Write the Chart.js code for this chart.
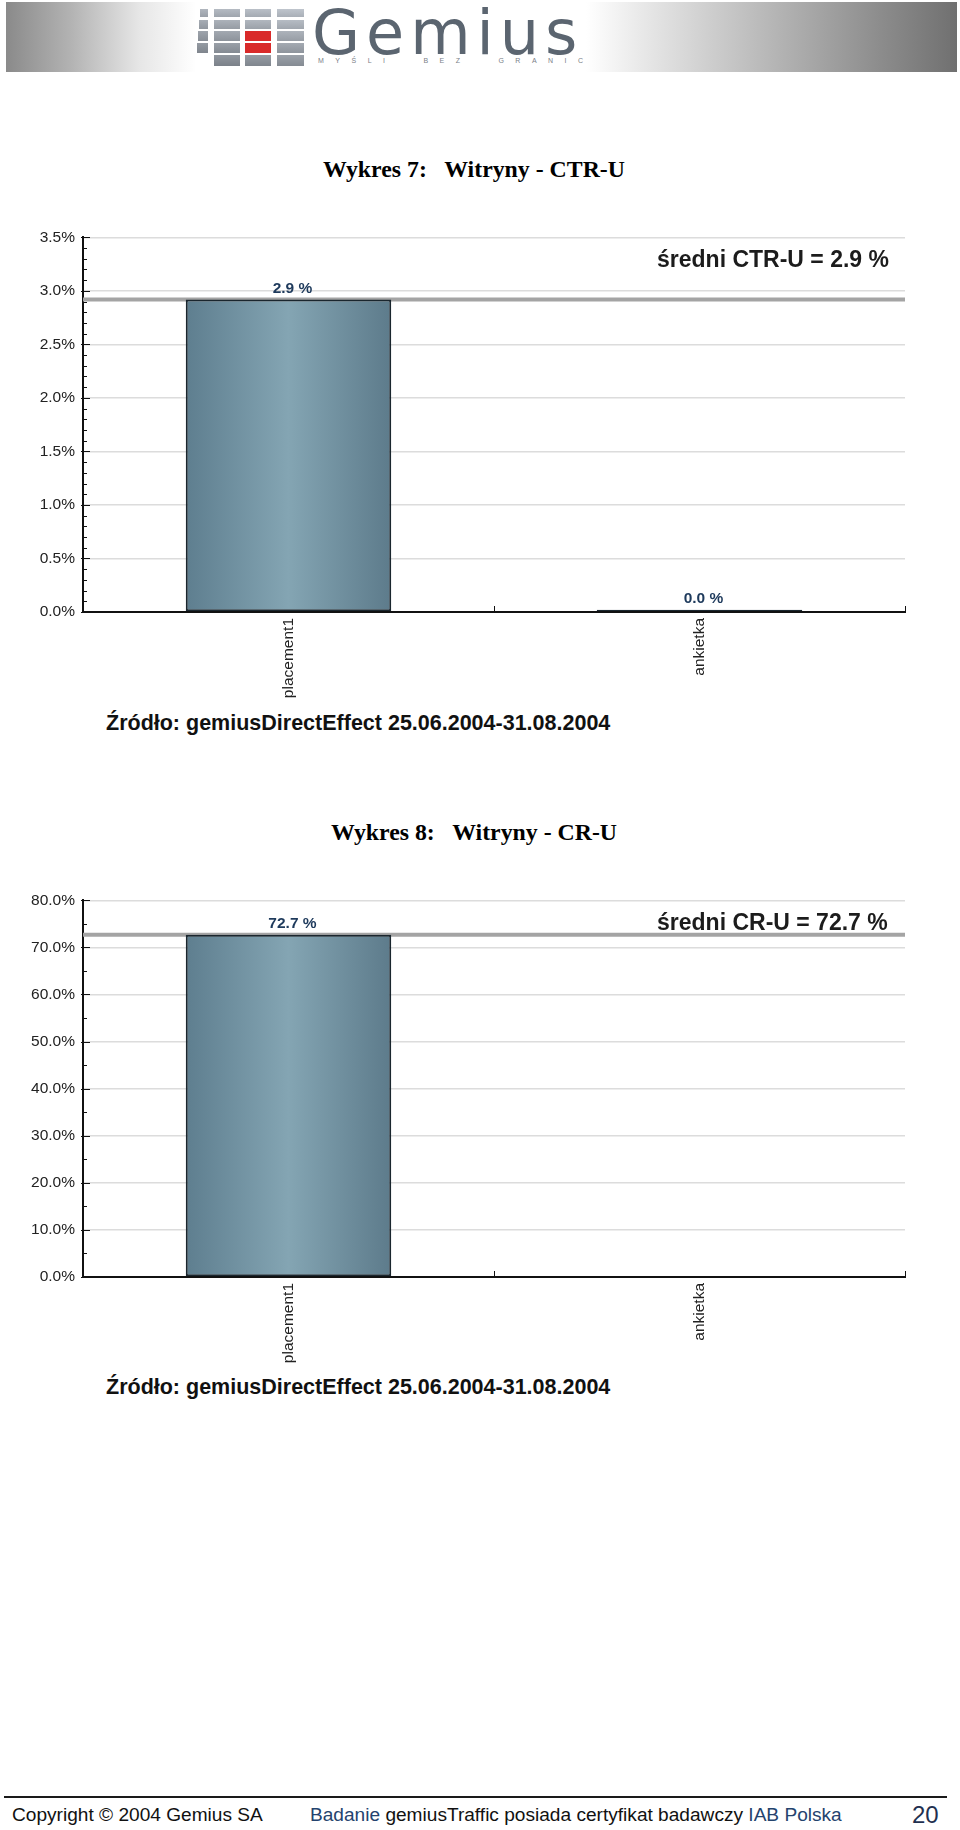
<!DOCTYPE html>
<html>
<head>
<meta charset="utf-8">
<script src="https://cdn.jsdelivr.net/npm/chart.js@4/dist/chart.umd.min.js"></script>
<style>
  html, body { margin:0; padding:0; background:#fff; }
  body { width:960px; height:1830px; position:relative; overflow:hidden; font-family:"Liberation Sans", Arial, sans-serif; }
  .abs { position:absolute; white-space:pre; }
  .banner { left:6px; top:2px; width:951px; height:70px;
    background:linear-gradient(to right,#8a8a8a 0%,#b4b4b4 7%,#e6e6e6 14%,#ffffff 20%,#ffffff 61%,#e4e4e4 68%,#b8b8b8 80%,#8c8c8c 92%,#707070 100%); }
  .sq { position:absolute; background:#a9b0b9; }
  .title { left:0; width:948px; text-align:center; font-family:"Liberation Serif","Times New Roman",serif; font-weight:bold; font-size:23.8px; color:#000; height:30px; line-height:30px; }
  .source { left:106px; font-weight:bold; font-size:21.5px; color:#111; height:26px; line-height:26px; }
  .avg { left:657px; font-weight:bold; font-size:23px; color:#1c1c1c; height:28px; line-height:28px; }
  .foot { font-size:19.1px; color:#111; height:24px; line-height:24px; top:1803px; }
  .blue { color:#24436e; }
  .chartbox { position:absolute; left:0; width:960px; }
</style>
</head>
<body>
<div class="abs banner"></div>
<div id="logo"></div>
<div class="abs" style="left:312px;top:-2px;font-family:'DejaVu Sans',sans-serif;font-weight:normal;font-size:62px;line-height:70px;letter-spacing:6px;color:#5b6570;">Gemius</div>
<div class="abs" style="left:318px;top:56px;font-size:7px;line-height:10px;letter-spacing:11.5px;color:#7a8088;">MYŚLI  BEZ  GRANIC</div>

<div class="abs title" style="top:154px;">Wykres 7:   Witryny - CTR-U</div>
<div class="chartbox" style="top:220px;height:490px;"><canvas id="c1" width="960" height="490"></canvas></div>
<div class="abs avg" style="top:245px;">średni CTR-U = 2.9 %</div>
<div class="abs source" style="top:710px;">Źródło: gemiusDirectEffect 25.06.2004-31.08.2004</div>

<div class="abs title" style="top:817px;">Wykres 8:   Witryny - CR-U</div>
<div class="chartbox" style="top:883px;height:490px;"><canvas id="c2" width="960" height="490"></canvas></div>
<div class="abs avg" style="top:908px;">średni CR-U = 72.7 %</div>
<div class="abs source" style="top:1374px;">Źródło: gemiusDirectEffect 25.06.2004-31.08.2004</div>

<div class="abs" style="left:4px;top:1796px;width:943px;height:2px;background:#1a1a1a;"></div>
<div class="abs foot" style="left:12px;">Copyright © 2004 Gemius SA</div>
<div class="abs foot" style="left:310px;"><span class="blue">Badanie</span> gemiusTraffic posiada certyfikat badawczy <span class="blue">IAB Polska</span></div>
<div class="abs" style="left:912px;top:1801px;font-size:24px;line-height:28px;color:#1f3050;">20</div>

<script>
// ---- data ----
const categories = ['placement1', 'ankietka'];
const ctrValues = [2.92, 0.02];
const crValues = [72.7, null];
const ctrAverage = 2.92;
const crAverage = 72.7;
const ctrTickLabels = ['0.0%','0.5%','1.0%','1.5%','2.0%','2.5%','3.0%','3.5%'];
const crTickLabels = ['0.0%','10.0%','20.0%','30.0%','40.0%','50.0%','60.0%','70.0%','80.0%'];

// ---- logo squares ----
(function(){
  const logo = document.getElementById('logo');
  const cols = [[196,10],[214,26],[245,26],[277,27]];
  const rows = [[9,8],[20,9],[31,10],[43,10],[55,11]];
  cols.forEach((c,ci)=>rows.forEach((r,ri)=>{
    if (ci===0 && ri===4) return;
    const d = document.createElement('div');
    d.className='sq';
    let w = c[1], x = c[0];
    if (ci===0) { w = 8 + ri; x = c[0] + 4 - ri; }
    d.style.left = x+'px'; d.style.top = r[0]+'px'; d.style.width = w+'px'; d.style.height = r[1]+'px';
    const shade = 176 + ci*5 - ri*9;
    d.style.background = `linear-gradient(to bottom, rgb(${shade},${shade+6},${shade+14}), rgb(${shade-22},${shade-16},${shade-8}))`;
    if (ci===2 && (ri===2 || ri===3)) d.style.background = '#d92a2a';
    logo.appendChild(d);
  }));
})();

const FONT = '"Liberation Sans", Arial, sans-serif';

const decor = {
  id: 'decor',
  beforeDatasetsDraw(chart, args, opts) {
    const {ctx, chartArea:a, scales:{y}} = chart;
    const yy = y.getPixelForValue(opts.average);
    ctx.save();
    ctx.strokeStyle = '#a4a4a4';
    ctx.lineWidth = 4;
    ctx.beginPath(); ctx.moveTo(a.left, yy); ctx.lineTo(a.right, yy); ctx.stroke();
    ctx.restore();
  },
  afterDatasetsDraw(chart, args, opts) {
    const {ctx, chartArea:a, scales:{x,y}} = chart;
    ctx.save();
    ctx.strokeStyle = '#111';
    ctx.lineWidth = 1;
    const n = Math.round((opts.max - opts.min) / opts.minor);
    const per = Math.round(opts.step / opts.minor);
    for (let i = 0; i <= n; i++) {
      const v = opts.min + i * opts.minor;
      const py = Math.round(y.getPixelForValue(v)) + 0.5;
      const len = (i % per === 0) ? 7 : 4;
      ctx.beginPath(); ctx.moveTo(a.left - (i % per === 0 ? 2 : 0), py); ctx.lineTo(a.left + len, py); ctx.stroke();
    }
    for (let i = 0; i < categories.length; i++) {
      const px = Math.round(x.getPixelForValue(i + 0.5)) + 0.5;
      ctx.beginPath(); ctx.moveTo(px, a.bottom); ctx.lineTo(px, a.bottom - 6); ctx.stroke();
    }
    const meta = chart.getDatasetMeta(0);
    const data = chart.data.datasets[0].data;
    ctx.fillStyle = '#1e3a5c';
    ctx.font = 'bold 15.5px ' + FONT;
    ctx.textAlign = 'center';
    ctx.textBaseline = 'bottom';
    meta.data.forEach((el, i) => {
      if (data[i] == null) return;
      ctx.fillText(data[i].toFixed(1) + ' %', el.x + 4, el.y - 3);
    });
    ctx.restore();
  }
};

function barGradient(c) {
  const ch = c.chart;
  if (!ch.chartArea) return '#7394a3';
  const xs = ch.scales.x;
  const cx = xs.getPixelForValue(c.dataIndex);
  const half = (xs.getPixelForValue(c.dataIndex + 0.5) - cx) / 2;
  const g = ch.ctx.createLinearGradient(cx - half, 0, cx + half, 0);
  g.addColorStop(0, '#5e7e8f');
  g.addColorStop(0.5, '#84a5b3');
  g.addColorStop(1, '#5d7b8b');
  return g;
}

function makeChart(id, values, average, tickLabels, min, max, step, minor, topPad, xHeight) {
  return new Chart(document.getElementById(id), {
    type: 'bar',
    data: {
      labels: categories,
      datasets: [{
        data: values,
        backgroundColor: barGradient,
        borderColor: '#1a262e',
        borderWidth: 2,
        borderSkipped: false,
        categoryPercentage: 0.5,
        barPercentage: 1
      }]
    },
    options: {
      responsive: false,
      animation: false,
      layout: { padding: { top: topPad, right: 55, left: 0, bottom: 0 } },
      plugins: {
        legend: { display: false },
        tooltip: { enabled: false },
        decor: { average, min, max, step, minor }
      },
      scales: {
        x: {
          offset: true,
          grid: { display: false, drawTicks: false },
          border: { display: true, color: '#111', width: 2 },
          ticks: { minRotation: 90, maxRotation: 90, padding: 6, color: '#222', font: { family: FONT, size: 15.5 } },
          afterFit: s => { s.height = xHeight; }
        },
        y: {
          min, max,
          ticks: { stepSize: step, padding: 8, color: '#222', font: { family: FONT, size: 15.5 },
                   callback: (v, i) => tickLabels[i] },
          grid: { color: '#dcdcdc', lineWidth: 1.5, drawTicks: false },
          border: { display: true, color: '#111', width: 2 },
          afterFit: s => { s.width = 83; }
        }
      }
    },
    plugins: [decor]
  });
}

makeChart('c1', ctrValues, ctrAverage, ctrTickLabels, 0, 3.5, 0.5, 0.1, 13, 98);
makeChart('c2', crValues, crAverage, crTickLabels, 0, 80, 10, 5, 13, 96);
</script>
</body>
</html>
